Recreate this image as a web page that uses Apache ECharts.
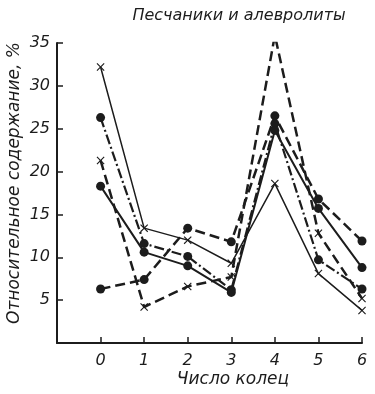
<!DOCTYPE html>
<html>
<head>
<meta charset="utf-8">
<script src="https://cdn.jsdelivr.net/npm/echarts@6/dist/echarts.min.js"></script>
<style>html,body{margin:0;padding:0;background:#fff;}#c{width:375px;height:394px;}</style>
</head>
<body>
<div id="c"></div>
<script>
var rings = [0, 1, 2, 3, 4, 5, 6];
var yTicks = [5, 10, 15, 20, 25, 30, 35];
var crossSolid = [32.2, 13.4, 12.0, 9.3, 18.6, 8.1, 3.8];
var crossDashed = [21.3, 4.2, 6.6, 7.7, 35.9, 12.8, 5.2];
var dotDashDot = [26.3, 11.6, 10.1, 6.2, 25.6, 9.7, 6.3];
var dotSolid = [18.3, 10.6, 9.0, 5.9, 24.8, 15.7, 8.8];
var dotDashed = [6.3, 7.4, 13.4, 11.8, 26.5, 16.8, 11.9];

var INK = '#1c1c1c';
var FONT = 'DejaVu Sans, sans-serif';
var crossPath = 'path://M0,1L1,0L5,4L9,0L10,1L6,5L10,9L9,10L5,6L1,10L0,9L4,5Z';

function pairs(vals) { return rings.map(function (r, i) { return [r, vals[i]]; }); }
function mk(vals, symbol, size, width, dash) {
  return {
    type: 'line', data: pairs(vals), symbol: symbol, symbolSize: size,
    showAllSymbol: true, animation: false,
    lineStyle: { color: INK, width: width, type: dash },
    itemStyle: { color: INK, borderWidth: 0 }
  };
}
function label(text, x, y, size, rot) {
  return {
    type: 'text', x: x, y: y, rotation: rot || 0, silent: true,
    style: { text: text, fontFamily: FONT, fontStyle: 'italic', fontSize: size, fill: INK, align: 'center', verticalAlign: 'middle' }
  };
}

var chart = echarts.init(document.getElementById('c'), null, { renderer: 'canvas' });
chart.setOption({
  backgroundColor: '#ffffff',
  animation: false,
  graphic: [
    label('Песчаники и алевролиты', 239, 16, 16),
    label('Число колец', 233, 380, 17),
    label('Относительное содержание, %', 15, 183, 17, Math.PI / 2)
  ],
  grid: { left: 57, right: 13, top: 43, bottom: 51 },
  xAxis: {
    type: 'value', min: -1, max: 6, interval: 1,
    axisLine: { onZero: false, lineStyle: { color: INK, width: 2 } },
    axisTick: { inside: true, length: 6, lineStyle: { color: INK, width: 1.5 }, customValues: rings },
    axisLabel: { customValues: rings, margin: 10, fontFamily: FONT, fontStyle: 'italic', fontSize: 16, color: INK },
    splitLine: { show: false }
  },
  yAxis: {
    type: 'value', min: 0, max: 35, interval: 5,
    axisLine: { onZero: false, lineStyle: { color: INK, width: 2 } },
    axisTick: { inside: true, length: 6, lineStyle: { color: INK, width: 1.5 }, customValues: yTicks },
    axisLabel: { customValues: yTicks, margin: 7, fontFamily: FONT, fontStyle: 'italic', fontSize: 16, color: INK },
    splitLine: { show: false }
  },
  series: [
    mk(crossSolid, crossPath, 8, 1.5, 'solid'),
    mk(crossDashed, crossPath, 8, 2.5, [10, 5]),
    mk(dotDashDot, 'circle', 9, 2.2, [10, 3, 2, 3]),
    mk(dotSolid, 'circle', 9, 2, 'solid'),
    mk(dotDashed, 'circle', 9, 2.5, [10, 5])
  ]
});
</script>
</body>
</html>
